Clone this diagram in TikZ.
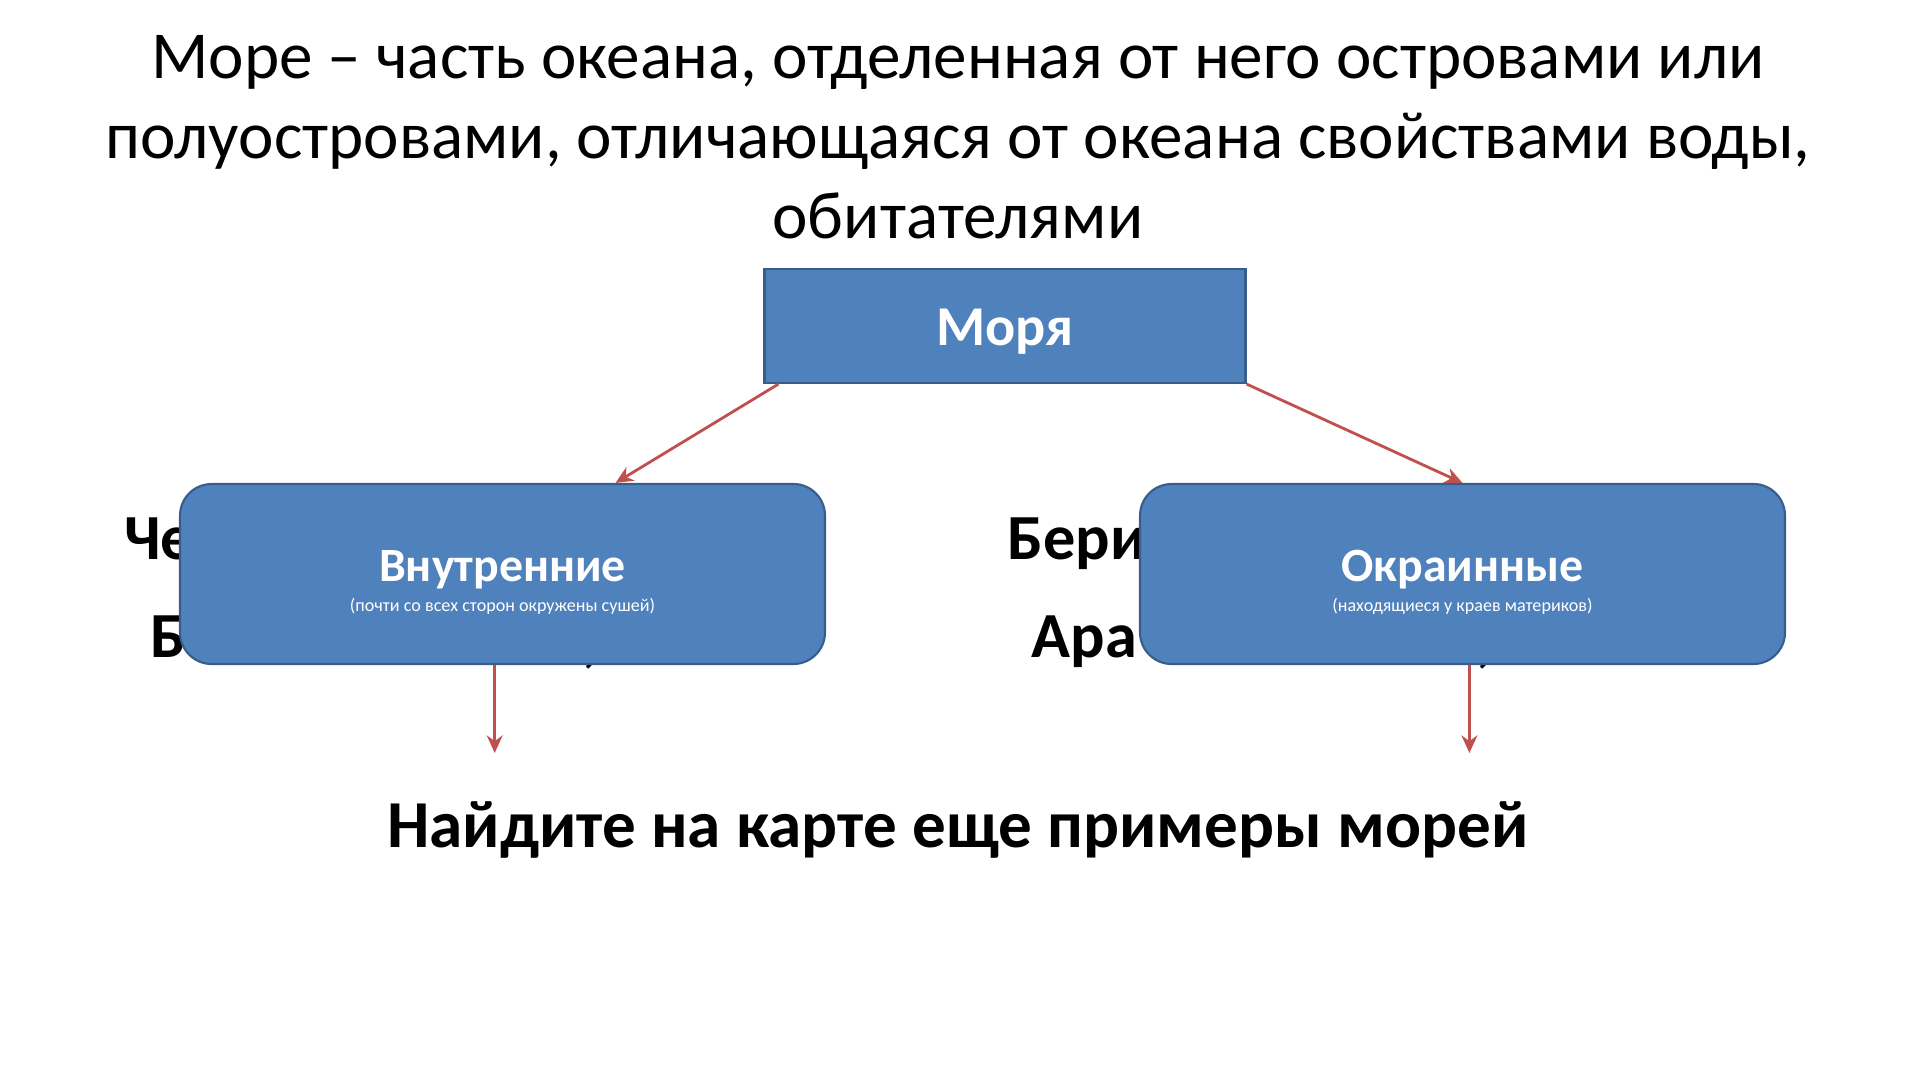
\documentclass[tikz,border=0pt]{standalone}
\usepackage{fontspec}
\setmainfont{Carlito}
\usetikzlibrary{arrows.meta,positioning}
\definecolor{seablue}{RGB}{79,129,189}
\definecolor{seaedge}{RGB}{56,93,138}
\definecolor{seared}{RGB}{192,80,77}

\begin{document}
\begin{tikzpicture}[
  kind/.style={draw=seaedge,fill=seablue,rounded corners=9pt,line width=0.6pt,
               minimum width=6.45cm,minimum height=1.8cm,text=white,align=center},
  seatext/.style={font=\fontsize{18.3}{21}\selectfont\bfseries,anchor=base west,inner sep=0pt},
  link/.style={->,draw=seared,line width=0.8pt},
  >={Stealth[length=5pt,width=4.5pt]}
]
  \useasboundingbox (0,0) rectangle (19.2,-10.8);
  \node[font=\fontsize{19.1}{22.8}\selectfont,align=center,anchor=north,inner sep=0pt]
    (title) at (9.58,-0.345) {Море – часть океана, отделенная от него островами или\\
    полуостровами, отличающаяся от океана свойствами воды,\\ обитателями};
  % examples under the boxes
  \node[seatext] (ex1) at (1.235,-5.59) {Че};
  \node[seatext] (ex2) at (1.50,-6.57) {Б};
  \node[seatext] (ex3) at (5.82,-6.60) {,};
  \node[seatext] (ex4) at (10.07,-5.59) {Бери};
  \node[seatext] (ex5) at (10.31,-6.57) {Ара};
  \node[seatext] (ex6) at (14.76,-6.60) {,};
  \node[draw=seaedge,fill=seablue,line width=0.6pt,minimum width=4.81cm,minimum height=1.14cm,
        text=white,font=\fontsize{16}{19}\selectfont\bfseries] (seas) at (10.05,-3.26)
    {\rule{0pt}{13.5pt}Моря};
  \node[kind] (inland) at (5.025,-5.74)
    {\rule{0pt}{13.5pt}{\fontsize{13.6}{16}\selectfont\bfseries Внутренние}\\[-3.4pt]
     {\fontsize{5.15}{7}\selectfont (почти со всех сторон окружены сушей)}};
  \node[kind] (marginal) at (14.625,-5.74)
    {\rule{0pt}{13.5pt}{\fontsize{13.6}{16}\selectfont\bfseries Окраинные}\\[-3.4pt]
     {\fontsize{5.15}{7}\selectfont (находящиеся у краев материков)}};
  \coordinate (inlandend) at (4.947,-7.53);
  \coordinate (marginalend) at (14.694,-7.53);
  \draw[link] ([xshift=0.15cm]seas.south west) -- ([xshift=1.13cm]inland.north);
  \draw[link] (seas.south east) -- (marginal.north);
  \draw[link] (inland.south -| inlandend) -- (inlandend);
  \draw[link] (marginal.south -| marginalend) -- (marginalend);
  \node[font=\fontsize{19.1}{22}\selectfont\bfseries,anchor=base] (task) at (9.58,-8.47)
    {Найдите на карте еще примеры морей};
\end{tikzpicture}
\end{document}
